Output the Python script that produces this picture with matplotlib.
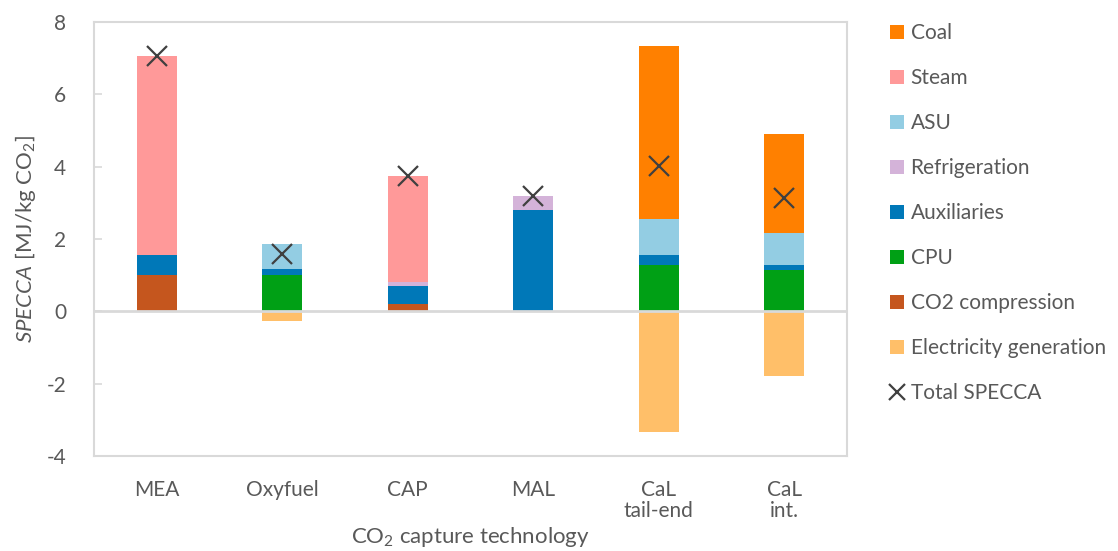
import matplotlib
matplotlib.use("Agg")
import matplotlib.pyplot as plt
import numpy as np
from matplotlib.patches import Patch
from matplotlib.lines import Line2D

plt.rcParams['font.family'] = ['Lato', 'DejaVu Sans']
plt.rcParams['mathtext.fontset'] = 'custom'
plt.rcParams['mathtext.rm'] = 'Lato'
plt.rcParams['mathtext.it'] = 'Lato:italic'
plt.rcParams['axes.unicode_minus'] = False

categories = ["MEA", "Oxyfuel", "CAP", "MAL", "CaL\ntail-end", "CaL\nint."]

co2_compression = [1.00, 0.00, 0.21, 0.00, 0.00, 0.00]
cpu = [0.00, 1.00, 0.00, 0.00, 1.29, 1.15]
auxiliaries = [0.55, 0.17, 0.50, 2.80, 0.28, 0.14]
refrigeration = [0.00, 0.00, 0.11, 0.39, 0.00, 0.00]
asu = [0.00, 0.68, 0.00, 0.00, 0.99, 0.87]
steam = [5.50, 0.00, 2.91, 0.00, 0.00, 0.00]
coal = [0.00, 0.00, 0.00, 0.00, 4.79, 2.75]
electricity = [0.00, -0.26, 0.00, 0.00, -3.33, -1.78]
total_specca = [7.05, 1.59, 3.73, 3.19, 4.02, 3.13]

colors = {
    "Coal": "#FF8000",
    "Steam": "#FF9999",
    "ASU": "#93CDE3",
    "Refrigeration": "#D4B3D9",
    "Auxiliaries": "#0078B8",
    "CPU": "#00A015",
    "CO2 compression": "#C5561E",
    "Electricity generation": "#FFBF69",
}

grey_text = "#595959"
grey_line = "#D9D9D9"
fs = 15

fig = plt.figure(figsize=(11.18, 5.51), dpi=100)
ax = fig.add_axes([0.0841, 0.1724, 0.6735, 0.7876])

x = np.arange(len(categories))
w = 0.32
stack = [("CO2 compression", co2_compression), ("CPU", cpu), ("Auxiliaries", auxiliaries),
         ("Refrigeration", refrigeration), ("ASU", asu), ("Steam", steam), ("Coal", coal)]
bottom = np.zeros(len(categories))
for name, vals in stack:
    v = np.array(vals)
    ax.bar(x, v, w, bottom=bottom, color=colors[name], zorder=2, linewidth=0)
    bottom += v
ax.bar(x, electricity, w, color=colors["Electricity generation"], zorder=2, linewidth=0)

ax.axhline(0, color=grey_line, lw=2, zorder=3)
ax.plot(x, total_specca, linestyle='none', marker='x', markersize=14, mew=1.6,
        color='#404040', zorder=4)

ax.set_xlim(-0.5, len(categories) - 0.5)
ax.set_ylim(-4, 8)
ax.set_yticks(np.arange(-4, 9, 2))
ax.set_xticks(x)
ax.set_xticklabels(categories, va='top', linespacing=1.1)
ax.tick_params(axis='x', length=0, pad=17, labelsize=fs, labelcolor=grey_text)
ax.tick_params(axis='y', direction='in', length=6, width=1.2, color=grey_line,
               labelsize=fs, labelcolor=grey_text, pad=20)
for s in ax.spines.values():
    s.set_color(grey_line)
    s.set_linewidth(1.5)

ax.set_ylabel(r"$\mathit{SPECCA}$ [MJ/kg CO$_2$]", fontsize=fs + 1, color=grey_text, labelpad=6)
ax.set_xlabel(r"CO$_2$ capture technology", fontsize=fs + 1, color=grey_text, labelpad=3)

legend_names = ["Coal", "Steam", "ASU", "Refrigeration", "Auxiliaries", "CPU",
                "CO2 compression", "Electricity generation"]
handles = [Patch(facecolor=colors[n], edgecolor='none', label=n) for n in legend_names]
handles.append(Line2D([], [], linestyle='none', marker='x', markersize=11, mew=1.6,
                      color='#404040', label='Total SPECCA'))
leg = fig.legend(handles=handles, loc='upper left', bbox_to_anchor=(0.779, 0.992),
                 frameon=False, fontsize=fs, labelspacing=1.2, handlelength=0.7,
                 handleheight=0.7, handletextpad=0.3)
for t in leg.get_texts():
    t.set_color(grey_text)

fig.savefig("out.png", dpi=100)
